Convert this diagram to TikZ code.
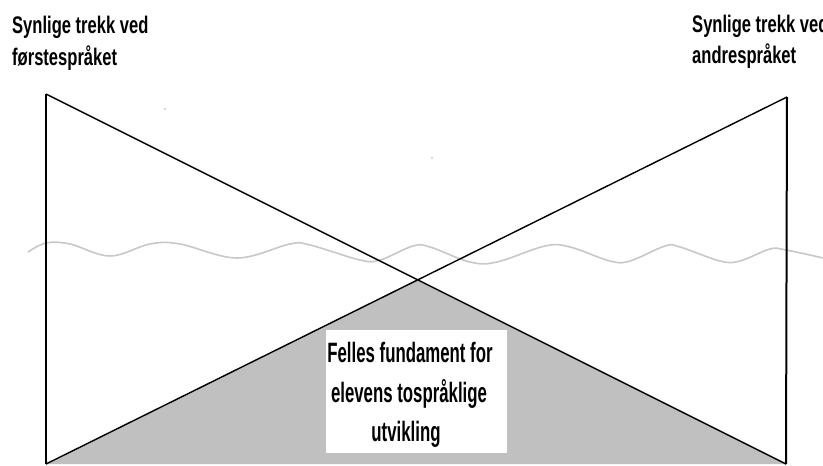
\documentclass[tikz,border=0pt]{standalone}
\usepackage{fontspec}
\newfontfamily\lblfont[FakeStretch=0.69]{Liberation Sans Bold}
\newfontfamily\boxfont[FakeStretch=0.6]{Liberation Sans Bold}
\definecolor{fundgray}{HTML}{C0C0C0}
\definecolor{wavegray}{HTML}{C8C8C8}
\tikzset{
  toplabel/.style={anchor=base west, inner sep=0pt, font=\lblfont\fontsize{24}{28}\selectfont},
  boxline/.style={anchor=base, inner sep=0pt, font=\boxfont\fontsize{28}{32}\selectfont},
  vline/.style={line width=2pt, black},
  dline/.style={line width=1.4pt, black},
}
\begin{document}
\begin{tikzpicture}[x=1pt,y=-1pt]
\useasboundingbox[fill=white] (0,0) rectangle (823,466);
% corner coordinates
\coordinate (TL) at (46,94);
\coordinate (TR) at (787,97);
\coordinate (BL) at (46,464);
\coordinate (BR) at (786,464);
\coordinate (X) at (416,280);
% shaded foundation
\fill[fundgray] (BL) -- (X) -- (BR) -- cycle;
% wavy water line
\draw[wavegray, line width=1.6pt] plot[smooth, tension=0.6] coordinates {
  (28,252) (46,243) (70,244) (110,256) (150,244) (180,244) (237,258)
  (290,244) (310,245) (360,260) (380,260) (413,246) (430,247) (470,262)
  (497,262) (545,246) (570,247) (610,261) (630,261) (665,246) (680,247)
  (720,261) (740,261) (770,249) (786,250) (823,258)};
% verticals and diagonals
\draw[vline] (TL) -- (BL);
\draw[vline] (TR) -- (BR);
\draw[dline] (TL) -- (BR);
\draw[dline] (BL) -- (TR);
% specks
\fill[gray!60] (165,109) circle (0.8);
\fill[gray!60] (432,158) circle (0.8);
% white box
\node[fill=white, inner sep=0pt, minimum width=181pt, minimum height=123pt] (box) at (416.5,391.5) {};
\node[boxline] (b1) at (410,362) {Felles fundament for};
\node[boxline] (b2) at (409,402) {elevens tospråklige};
\node[boxline] (b3) at (406,441) {utvikling};
% top labels
\node[toplabel] (l1) at (12,33) {Synlige trekk ved};
\node[toplabel] (l2) at (12,65) {førstespråket};
\node[toplabel] (r1) at (692,32) {Synlige trekk ved};
\node[toplabel] (r2) at (692,63) {andrespråket};
\end{tikzpicture}
\end{document}
